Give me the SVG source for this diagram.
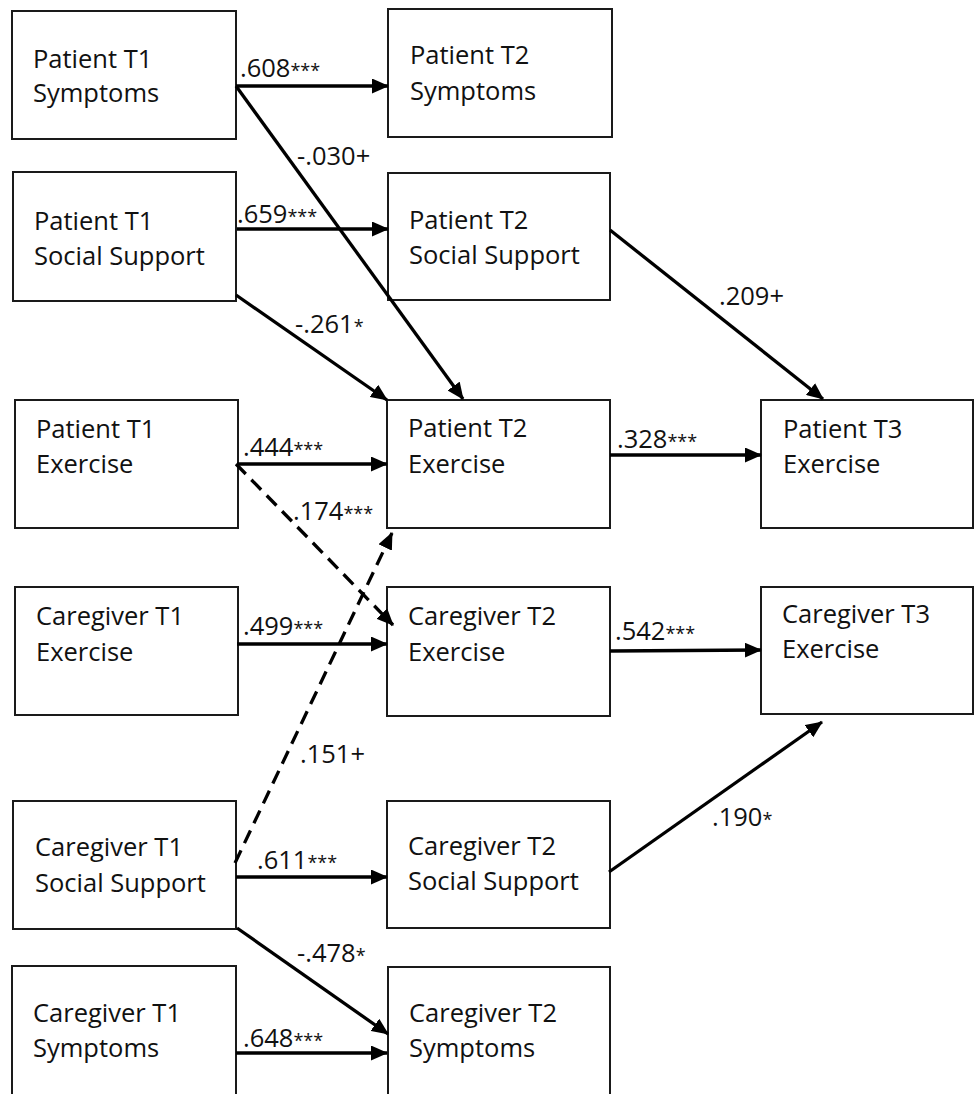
<svg xmlns="http://www.w3.org/2000/svg" width="974" height="1094" viewBox="0 0 974 1094">
<style>
.box{fill:#fff;stroke:#1a1a1a;stroke-width:2}
.t{font-family:"Open Sans","Liberation Sans",sans-serif;font-size:25.5px;fill:#111}
.lbl{font-family:"Open Sans","Liberation Sans",sans-serif;font-size:25.5px;fill:#111}
.st{font-size:18px}
.c{fill:none;stroke:#000;stroke-width:3.3;marker-end:url(#ah)}
.d{stroke-dasharray:14 8}
</style>
<defs>
<marker id="ah" markerUnits="userSpaceOnUse" viewBox="0 0 17 15" markerWidth="17" markerHeight="15" refX="16" refY="7.5" orient="auto">
<path d="M0,0 L17,7.5 L0,15 z" fill="#000"/>
</marker>
</defs>
<rect width="974" height="1094" fill="#fff"/>
<g id="n-p1-sym"><rect class="box" x="12" y="11" width="224" height="128"/><text class="t" x="33" y="68">Patient T1</text><text class="t" x="33" y="102">Symptoms</text></g>
<g id="n-p1-ss"><rect class="box" x="13" y="172" width="223" height="129"/><text class="t" x="34" y="230">Patient T1</text><text class="t" x="34" y="265">Social Support</text></g>
<g id="n-p1-ex"><rect class="box" x="15" y="400" width="223" height="128"/><text class="t" x="36" y="438">Patient T1</text><text class="t" x="36" y="473">Exercise</text></g>
<g id="n-c1-ex"><rect class="box" x="15" y="587" width="223" height="128"/><text class="t" x="36" y="625">Caregiver T1</text><text class="t" x="36" y="661">Exercise</text></g>
<g id="n-c1-ss"><rect class="box" x="13" y="801" width="223" height="128"/><text class="t" x="35" y="856">Caregiver T1</text><text class="t" x="35" y="892">Social Support</text></g>
<g id="n-c1-sym"><rect class="box" x="12" y="966" width="224" height="140"/><text class="t" x="33" y="1022">Caregiver T1</text><text class="t" x="33" y="1057">Symptoms</text></g>
<g id="n-p2-sym"><rect class="box" x="388" y="9" width="224" height="128"/><text class="t" x="410" y="64">Patient T2</text><text class="t" x="410" y="100">Symptoms</text></g>
<g id="n-p2-ss"><rect class="box" x="388" y="173" width="222" height="127"/><text class="t" x="409" y="229">Patient T2</text><text class="t" x="409" y="264">Social Support</text></g>
<g id="n-p2-ex"><rect class="box" x="387" y="400" width="223" height="128"/><text class="t" x="408" y="437">Patient T2</text><text class="t" x="408" y="473">Exercise</text></g>
<g id="n-c2-ex"><rect class="box" x="387" y="587" width="223" height="129"/><text class="t" x="408" y="625">Caregiver T2</text><text class="t" x="408" y="661">Exercise</text></g>
<g id="n-c2-ss"><rect class="box" x="387" y="801" width="223" height="127"/><text class="t" x="408" y="855">Caregiver T2</text><text class="t" x="408" y="890">Social Support</text></g>
<g id="n-c2-sym"><rect class="box" x="388" y="967" width="222" height="140"/><text class="t" x="409" y="1022">Caregiver T2</text><text class="t" x="409" y="1057">Symptoms</text></g>
<g id="n-p3-ex"><rect class="box" x="761" y="400" width="212" height="128"/><text class="t" x="783" y="438">Patient T3</text><text class="t" x="783" y="473">Exercise</text></g>
<g id="n-c3-ex"><rect class="box" x="761" y="587" width="212" height="127"/><text class="t" x="782" y="623">Caregiver T3</text><text class="t" x="782" y="658">Exercise</text></g>
<g id="connectors">
<line class="c" x1="236" y1="86" x2="388" y2="86"/>
<line class="c" x1="236" y1="86" x2="463" y2="399"/>
<line class="c" x1="237" y1="229" x2="388" y2="229"/>
<line class="c" x1="236" y1="295" x2="387" y2="400"/>
<line class="c" x1="610" y1="230" x2="823" y2="399"/>
<line class="c" x1="237" y1="464" x2="387" y2="464"/>
<line class="c d" x1="236" y1="464" x2="393" y2="625"/>
<line class="c d" x1="235" y1="863" x2="392" y2="533"/>
<line class="c" x1="237" y1="644" x2="387" y2="644"/>
<line class="c" x1="610" y1="455" x2="761" y2="455"/>
<line class="c" x1="610" y1="651" x2="761" y2="650"/>
<line class="c" x1="609" y1="872" x2="822" y2="722"/>
<line class="c" x1="236" y1="877" x2="387" y2="877"/>
<line class="c" x1="237" y1="928" x2="388" y2="1034"/>
<line class="c" x1="236" y1="1053" x2="387" y2="1053"/>
<text class="lbl" x="240" y="77">.608<tspan class="st">***</tspan></text>
<text class="lbl" x="297" y="165">-.030+</text>
<text class="lbl" x="237" y="223">.659<tspan class="st">***</tspan></text>
<text class="lbl" x="295" y="333">-.261<tspan class="st">*</tspan></text>
<text class="lbl" x="719" y="305">.209+</text>
<text class="lbl" x="243" y="456">.444<tspan class="st">***</tspan></text>
<text class="lbl" x="617" y="448">.328<tspan class="st">***</tspan></text>
<text class="lbl" x="293" y="520">.174<tspan class="st">***</tspan></text>
<text class="lbl" x="243" y="635">.499<tspan class="st">***</tspan></text>
<text class="lbl" x="615" y="640">.542<tspan class="st">***</tspan></text>
<text class="lbl" x="300" y="763">.151+</text>
<text class="lbl" x="712" y="826">.190<tspan class="st">*</tspan></text>
<text class="lbl" x="257" y="869">.611<tspan class="st">***</tspan></text>
<text class="lbl" x="297" y="962">-.478<tspan class="st">*</tspan></text>
<text class="lbl" x="243" y="1047">.648<tspan class="st">***</tspan></text>
</g>
</svg>
